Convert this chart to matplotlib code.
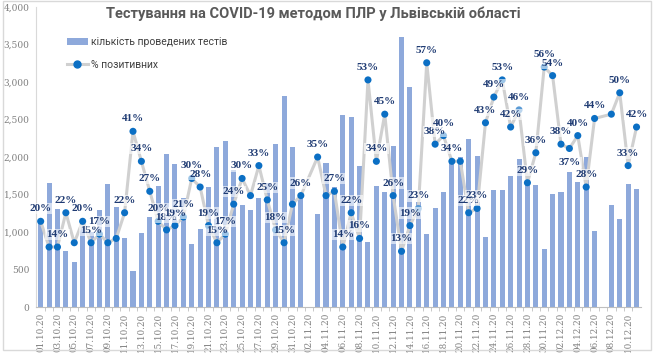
import numpy as np
import pandas as pd
import matplotlib
matplotlib.use("Agg")
import matplotlib.pyplot as plt
from matplotlib.patches import Rectangle

# daily values, 01.10.20 - 11.12.20 (0 / nan = no data that day)
tests_oct = [1150, 1650, 1310, 750, 605, 1130, 1000, 1300, 1640, 1330, 920, 475, 990, 1200, 1620,
             2040, 1905, 1450, 840, 1040, 1600, 2130, 2215, 1830, 1360, 1295, 1450, 1650, 2180, 2810, 2140]
tests_nov = [1500, 0, 1240, 1915, 1600, 2560, 2530, 1885, 870, 1620, 1540, 2145, 3600, 2940, 1400,
             980, 1315, 1530, 1915, 2000, 2245, 2015, 930, 1560, 1560, 1750, 1970, 1640, 1625, 770]
tests_dec = [1505, 1535, 1795, 1670, 2000, 1020, 0, 1360, 1170, 1640, 1580]

pct_oct = [20, 14, 14, 22, 15, 20, 15, 17, 15, 16, 22, 41, 34, 27, 20,
           18, 19, 21, 30, 28, 19, 15, 17, 24, 30, 26, 33, 25, 18, 15, 24]
pct_nov = [26, np.nan, 35, 26, 27, 14, 22, 16, 53, 34, 45, 26, 13, 19, 23,
           57, 38, 40, 34, 34, 22, 23, 43, 49, 53, 42, 46, 29, 36, 56]
pct_dec = [54, 38, 37, 40, 28, 44, np.nan, 45, 50, 33, 42]

# which points carry a visible data label in the original
lab_oct = [1, 0, 1, 1, 0, 1, 1, 1, 0, 0, 1, 1, 1, 1, 1, 1, 1, 1, 1, 1, 1, 1, 1, 1, 1, 0, 1, 1, 1, 1, 0]
lab_nov = [1, 0, 1, 0, 1, 1, 1, 1, 1, 1, 1, 1, 1, 1, 1, 1, 1, 1, 1, 0, 1, 1, 1, 1, 1, 1, 1, 1, 1, 1]
lab_dec = [1, 1, 1, 1, 1, 1, 0, 0, 1, 1, 1]

dates = pd.date_range("2020-10-01", "2020-12-11").strftime("%d.%m.%y").tolist()
tests = np.array(tests_oct + tests_nov + tests_dec, dtype=float)
pct = np.array(pct_oct + pct_nov + pct_dec, dtype=float)
show_lab = np.array(lab_oct + lab_nov + lab_dec, dtype=bool)
x = np.arange(len(dates))

bar_col = "#8EA9DB"
line_col = "#D0D0D0"
mark_col = "#0B6FC4"
lab_col = "#1F3B73"

fig = plt.figure(figsize=(6.55, 3.53), dpi=100)
ax = fig.add_axes([0.0557, 0.1303, 0.9225, 0.8497])
ax.bar(x, tests, width=0.6, color=bar_col, label="кількість проведених тестів", zorder=2)
ax.set_xlim(-0.5, len(dates) - 0.5)
ax.set_ylim(0, 4000)
ax.set_yticks(np.arange(0, 4001, 500))
ax.set_yticklabels([f"{v:,}" for v in range(0, 4001, 500)],
                   fontsize=6.5, color="#7F7F7F", family="DejaVu Serif")
ax.tick_params(axis="y", length=0, pad=5)
ax.set_xticks(x[::2])
ax.set_xticklabels(dates[::2], rotation=90, fontsize=6.3, color="#7F7F7F", family="DejaVu Serif")
ax.set_xticks(x[:-1] + 0.5, minor=True)
ax.tick_params(axis="x", which="major", length=0, pad=4)
ax.tick_params(axis="x", which="minor", length=3, color="#BFBFBF")
for s in ["top", "right"]:
    ax.spines[s].set_visible(False)
ax.spines["left"].set_color("#D9D9D9")
ax.spines["bottom"].set_color("#BFBFBF")

ax2 = ax.twinx()
ax2.set_ylim(0, 70)
ax2.axis("off")
ok = ~np.isnan(pct)
ax2.plot(x[ok], pct[ok], color=line_col, lw=2.2, zorder=3)
cols = [mark_col] * len(x)
cols[dates.index("15.11.20")] = "#5B9BD5"
cols[dates.index("27.11.20")] = "#5B9BD5"
ax2.scatter(x[ok], pct[ok], s=26, c=np.array(cols)[ok], zorder=4, linewidths=0)
for i in x[ok & show_lab]:
    dy = -10 if dates[i] == "03.12.20" else 9
    ax2.annotate(f"{pct[i]:.0f}%", (x[i], pct[i]), xytext=(0, dy), textcoords="offset points",
                 ha="center", va="center", fontsize=8, fontweight="bold", color=lab_col,
                 family="Liberation Serif", zorder=5,
                 bbox=dict(boxstyle="square,pad=0.1", fc="white", ec="none", alpha=0.6))

# legend proxies
ax2.plot([], [], color=line_col, lw=2.2, marker="o", mfc=mark_col, mec=mark_col, ms=5,
         label="% позитивних")
h1, l1 = ax.get_legend_handles_labels()
h2, l2 = ax2.get_legend_handles_labels()
leg = ax2.legend(h1 + h2, l1 + l2, loc="upper left", bbox_to_anchor=(0.035, 0.93), frameon=False,
                 prop={"family": ["Roboto", "DejaVu Sans"], "size": 7.5}, labelcolor="#404040",
                 handlelength=2.0, labelspacing=1.2, handletextpad=0.3)

fig.text(313 / 655, 1 - 14 / 353, "Тестування на COVID-19 методом ПЛР у Львівській області",
         ha="center", va="center", fontsize=10.5, fontweight="bold", color="#595959",
         family=["Roboto", "DejaVu Sans"])
fig.patches.append(Rectangle((0.004, 0.008), 0.99, 0.99, transform=fig.transFigure,
                             fill=False, ec="#D9D9D9", lw=1))

fig.savefig("out.png", dpi=100)
